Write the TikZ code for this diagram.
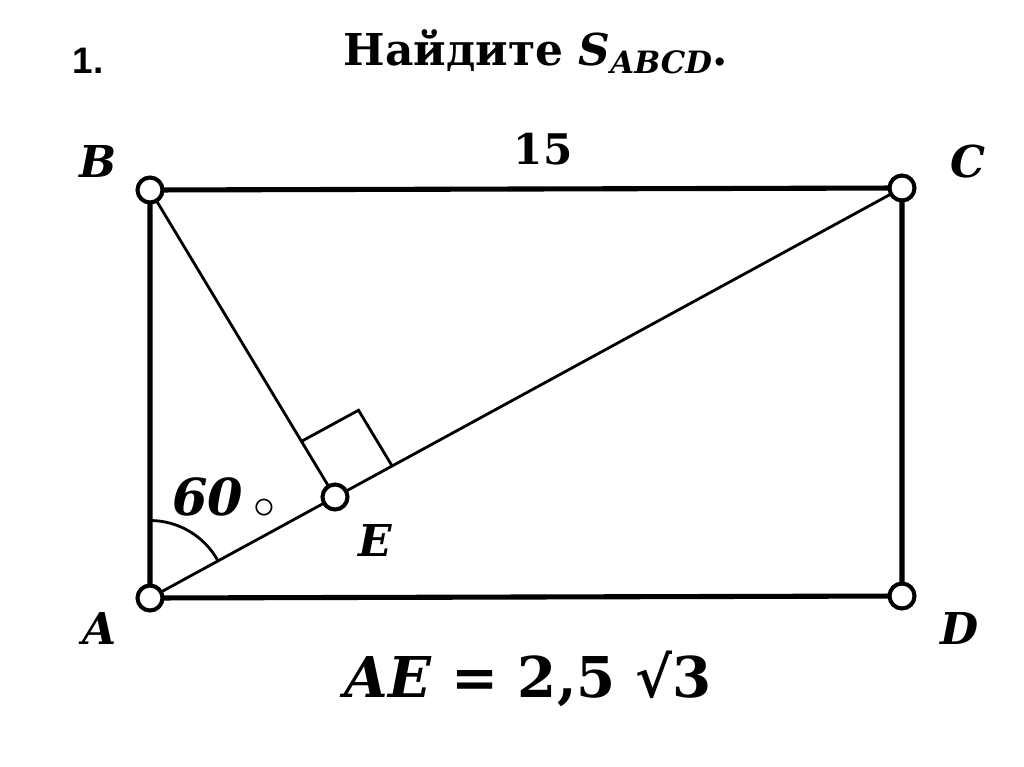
\documentclass[tikz,border=0pt]{standalone}
\usepackage{fontspec}
\setmainfont{DejaVu Serif}
\newfontfamily\numfont{Liberation Sans}
\usetikzlibrary{calc}

\begin{document}
\begin{tikzpicture}[x={(0.02cm,0)}, y={(0,-0.02cm)},
    vertex/.style={circle, draw, fill=white, line width=2.3pt, minimum size=0.5cm, inner sep=0pt},
    side/.style={line width=2.9pt},
    thin/.style={line width=1.6pt},
    lbl/.style={font=\fontsize{25}{25}\selectfont\bfseries\itshape}]
    \useasboundingbox (0,0) rectangle (1024,767);

    \coordinate (A) at (150,598);
    \coordinate (B) at (150,190);
    \coordinate (C) at (902,188);
    \coordinate (D) at (902,596);
    \coordinate (E) at (335,497);

    % sides and inner segments
    \draw[side] (A) -- (B) -- (C) -- (D) -- cycle;
    \draw[thin] (A) -- (C);
    \draw[thin] (B) -- (E);

    % right angle at E
    \coordinate (EB) at ($(E)!1.3cm!(B)$);
    \coordinate (EC) at ($(E)!1.3cm!(C)$);
    \draw[thin] (EB) -- ($(EB)+(EC)-(E)$) -- (EC);
    % angle at A
    \draw[thin] ($(A)+(0,1.55cm)$) arc[start angle=90, end angle=28.6, radius=1.55cm];

    \node[vertex] (a) at (A) {};
    \node[vertex] (b) at (B) {};
    \node[vertex] (c) at (C) {};
    \node[vertex] (d) at (D) {};
    \node[vertex] (e) at (E) {};

    \node[lbl] (la) at (100,628) {A};
    \node[lbl] (lb) at (98,161) {B};
    \node[lbl] (lc) at (968,162) {C};
    \node[lbl] (ld) at (960,628) {D};
    \node[lbl] (le) at (375,540) {E};
    \node[font=\fontsize{24}{24}\selectfont\bfseries] (l15) at (543,149) {15};
    \node[lbl] (lang) at (224,498) {\fontsize{29}{29}\selectfont 60\kern0.2em\raisebox{-0.06em}{\normalfont\upshape\fontsize{36}{36}\selectfont$\circ$}};

    \node[font=\fontsize{21}{21}\selectfont\numfont\bfseries] (num) at (88,61) {1.};
    \node[font=\fontsize{25}{25}\selectfont\bfseries, anchor=base] (title) at (536,66)
        {Найдите \textit{S}\textsubscript{\textit{ABCD}}.};
    \node[font=\fontsize{32}{32}\selectfont\bfseries] (given) at (528,679)
        {\textit{AE} = 2,5 √3};
\end{tikzpicture}
\end{document}
